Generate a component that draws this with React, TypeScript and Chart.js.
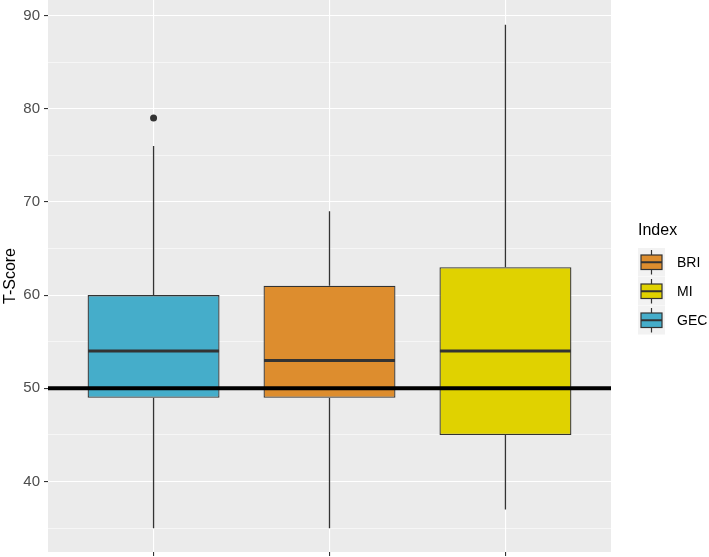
import React, { useEffect, useRef } from "react";
import { Chart, registerables } from "chart.js";

Chart.register(...registerables);

const categories = ["GEC", "BRI", "MI"];
const q1Values = [49, 49, 45];
const medianValues = [54, 53, 54];
const q3Values = [60, 61, 63];
const whiskerLow = [35, 35, 37];
const whiskerHigh = [76, 69, 89];
const outliers = [{ cat: 0, value: 79 }];
const boxColors = ["#45ADCA", "#DD8D2E", "#E0D200"];
const legendOrder = ["BRI", "MI", "GEC"];
const referenceValue = 50;
const yTicks = [35, 40, 45, 50, 55, 60, 65, 70, 75, 80, 85, 90];
const yMin = 32.45;
const yMax = 91.65;

const FONT = "'Liberation Sans', Arial, Helvetica, sans-serif";
const DARK = "#333333";

const boxPlugin = {
  id: "boxExtras",
  beforeDraw(chart: any) {
    const { ctx, chartArea } = chart;
    ctx.save();
    ctx.fillStyle = "#EBEBEB";
    ctx.fillRect(chartArea.left, chartArea.top, chartArea.right - chartArea.left, chartArea.bottom - chartArea.top);
    ctx.restore();
  },
  beforeDatasetsDraw(chart: any) {
    const { ctx } = chart;
    const xs = chart.scales.x;
    const ys = chart.scales.y;
    ctx.save();
    ctx.strokeStyle = DARK;
    ctx.lineWidth = 1.3;
    categories.forEach((_, i) => {
      const x = xs.getPixelForValue(i);
      ctx.beginPath();
      ctx.moveTo(x, ys.getPixelForValue(q3Values[i]));
      ctx.lineTo(x, ys.getPixelForValue(whiskerHigh[i]));
      ctx.moveTo(x, ys.getPixelForValue(q1Values[i]));
      ctx.lineTo(x, ys.getPixelForValue(whiskerLow[i]));
      ctx.stroke();
    });
    ctx.restore();
  },
  afterDatasetsDraw(chart: any) {
    const { ctx, chartArea } = chart;
    const ys = chart.scales.y;
    const meta = chart.getDatasetMeta(0);
    ctx.save();
    ctx.strokeStyle = DARK;
    ctx.lineWidth = 3;
    meta.data.forEach((bar: any, i: number) => {
      const { x, width } = bar.getProps(["x", "width"], true);
      const y = ys.getPixelForValue(medianValues[i]);
      ctx.beginPath();
      ctx.moveTo(x - width / 2 + 0.5, y);
      ctx.lineTo(x + width / 2 - 0.5, y);
      ctx.stroke();
    });
    const yr = ys.getPixelForValue(referenceValue);
    ctx.strokeStyle = "#000000";
    ctx.lineWidth = 4;
    ctx.beginPath();
    ctx.moveTo(chartArea.left, yr);
    ctx.lineTo(chartArea.right, yr);
    ctx.stroke();
    ctx.restore();
  },
  afterDraw(chart: any) {
    const { ctx } = chart;
    ctx.save();
    ctx.fillStyle = "#000000";
    ctx.font = `16px ${FONT}`;
    ctx.textBaseline = "middle";
    ctx.textAlign = "left";
    ctx.fillText("Index", 638, 231);
    const keyX = 638;
    const keyW = 27;
    const keyH = 28.5;
    legendOrder.forEach((name, r) => {
      const idx = categories.indexOf(name);
      const y0 = 248 + r * 29;
      ctx.fillStyle = "#F2F2F2";
      ctx.fillRect(keyX, y0, keyW, keyH);
      const cx = keyX + keyW / 2;
      ctx.strokeStyle = DARK;
      ctx.lineWidth = 1.2;
      ctx.beginPath();
      ctx.moveTo(cx, y0 + 2);
      ctx.lineTo(cx, y0 + keyH - 2);
      ctx.stroke();
      ctx.fillStyle = boxColors[idx];
      ctx.fillRect(keyX + 3, y0 + 7, keyW - 6, keyH - 14);
      ctx.strokeRect(keyX + 3, y0 + 7, keyW - 6, keyH - 14);
      ctx.lineWidth = 2;
      ctx.beginPath();
      ctx.moveTo(keyX + 3, y0 + keyH / 2);
      ctx.lineTo(keyX + keyW - 3, y0 + keyH / 2);
      ctx.stroke();
      ctx.fillStyle = "#000000";
      ctx.font = `14px ${FONT}`;
      ctx.fillText(name, 677, y0 + keyH / 2 + 0.5);
    });
    ctx.restore();
  },
};

export default function App() {
  const canvasRef = useRef<HTMLCanvasElement | null>(null);

  useEffect(() => {
    document.body.style.margin = "0";
    const canvas = canvasRef.current;
    if (!canvas) return;
    const chart = new Chart(canvas, {
      type: "bar",
      data: {
        datasets: [
          {
            type: "bar",
            data: categories.map((_, i) => ({ x: i, y: [q1Values[i], q3Values[i]] })) as any,
            backgroundColor: boxColors,
            borderColor: DARK,
            borderWidth: 1.3,
            borderSkipped: false,
            barPercentage: 0.75,
            categoryPercentage: 1,
            order: 2,
          } as any,
          {
            type: "scatter",
            data: outliers.map((o) => ({ x: o.cat, y: o.value })),
            pointRadius: 3.5,
            pointBackgroundColor: DARK,
            pointBorderColor: DARK,
            pointBorderWidth: 0,
            order: 1,
          } as any,
        ],
      },
      options: {
        animation: false,
        responsive: false,
        devicePixelRatio: 1,
        layout: { autoPadding: false, padding: { left: 0, top: 0, right: 98, bottom: 0 } },
        plugins: { legend: { display: false }, tooltip: { enabled: false } },
        scales: {
          x: {
            type: "linear",
            min: -0.6,
            max: 2.6,
            offset: false,
            afterBuildTicks: (scale: any) => {
              scale.ticks = categories.map((_, i) => ({ value: i }));
            },
            afterFit: (scale: any) => {
              scale.height = 5;
              scale.paddingLeft = 0;
              scale.paddingRight = 0;
            },
            ticks: { display: false },
            grid: {
              offset: false,
              color: "#FFFFFF",
              lineWidth: 1.1,
              drawTicks: true,
              tickLength: 4,
              tickColor: DARK,
              tickWidth: 1.1,
            },
            border: { display: false },
          },
          y: {
            type: "linear",
            min: yMin,
            max: yMax,
            afterBuildTicks: (scale: any) => {
              scale.ticks = yTicks.map((v) => ({ value: v }));
            },
            afterFit: (scale: any) => {
              scale.width = 48;
              scale.paddingTop = 0;
              scale.paddingBottom = 0;
            },
            ticks: {
              color: "#4D4D4D",
              font: { family: FONT, size: 15 },
              padding: 4,
              callback: (v: any) => (Number(v) % 10 === 0 ? String(v) : ""),
            },
            grid: {
              color: "#FFFFFF",
              lineWidth: (c: any) => (c.tick && c.tick.value % 10 === 0 ? 1.1 : 0.55),
              drawTicks: true,
              tickLength: 4,
              tickColor: (c: any) => (c.tick && c.tick.value % 10 === 0 ? DARK : "rgba(0,0,0,0)"),
              tickWidth: 1.1,
            },
            border: { display: false },
            title: {
              display: true,
              text: "T-Score",
              color: "#000000",
              font: { family: FONT, size: 16 },
              padding: { top: 1, bottom: 4 },
            },
          },
        },
      },
      plugins: [boxPlugin],
    });
    return () => chart.destroy();
  }, []);

  return (
    <div style={{ width: 709, height: 557 }}>
      <canvas ref={canvasRef} width={709} height={557} style={{ display: "block" }} />
    </div>
  );
}
